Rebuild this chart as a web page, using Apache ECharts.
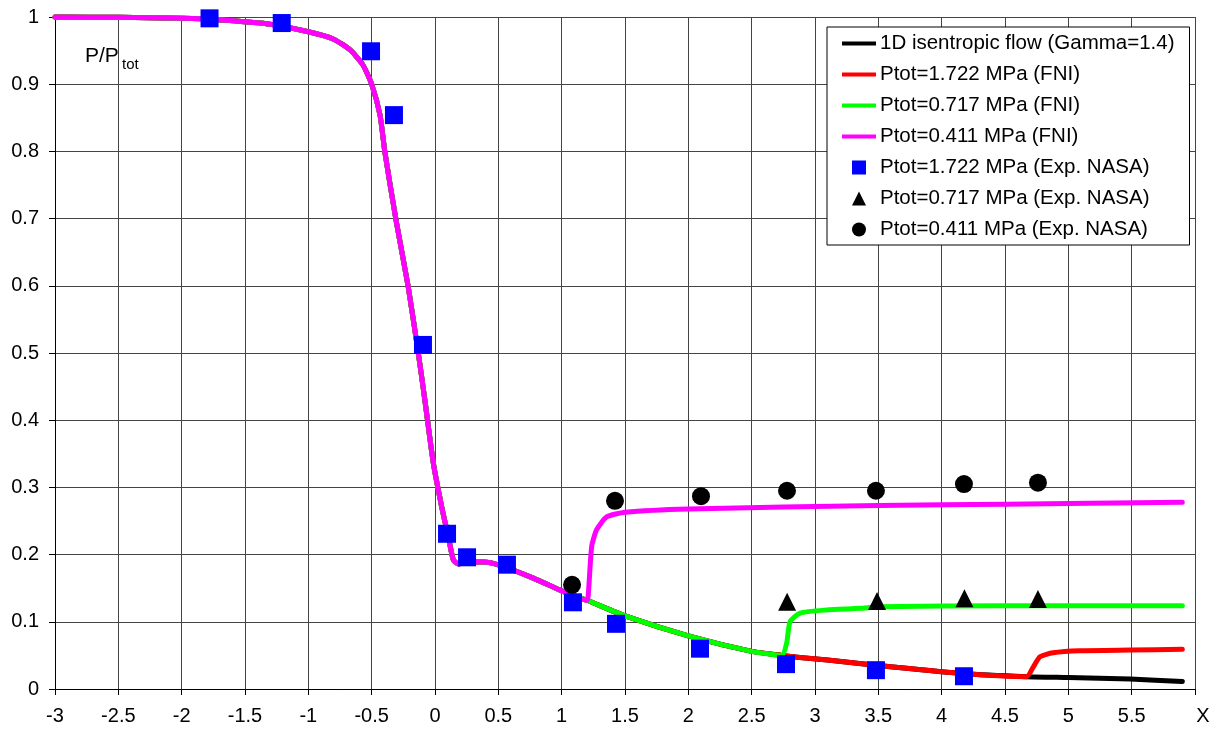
<!DOCTYPE html>
<html>
<head>
<meta charset="utf-8">
<script src="https://cdn.jsdelivr.net/npm/echarts@6/dist/echarts.min.js"></script>
<style>
html,body{margin:0;padding:0;background:#fff;}
#chart{width:1224px;height:735px;}
</style>
</head>
<body>
<div id="chart"></div>
<script>
// X positions / P/Ptot values
const isentropic = [
  [-3,1.0],[-2.5,0.9995],[-2.0,0.998],[-1.72,0.996],[-1.33,0.990],[-1.0,0.978],[-0.8,0.967],
  [-0.67,0.951],[-0.57,0.929],[-0.5,0.9],[-0.434,0.854],[-0.395,0.798],[-0.308,0.698],
  [-0.211,0.598],[-0.132,0.5],[-0.08,0.43],[-0.013,0.336],[0.053,0.271],[0.105,0.227],
  [0.145,0.192],[0.184,0.186],[0.25,0.189],[0.381,0.189],[0.513,0.184],[0.776,0.165],
  [1.013,0.145],[1.2,0.132],[1.513,0.108],[2.0,0.079],[2.5,0.056],[2.737,0.050],[2.88,0.047],
  [3.1,0.043],[3.35,0.038],[3.5,0.035],[4.17,0.023],[4.67,0.0183],[5.0,0.017],[5.49,0.0149],[5.9,0.011]
];
const fniRedShock = [[4.724,0.033],[4.776,0.048],[4.88,0.054],[5.09,0.057],[5.49,0.058],[5.9,0.059]];
const fniGreenShock = [[2.776,0.068],[2.803,0.100],[2.882,0.113],[3.092,0.1176],[3.355,0.120],[3.513,0.1225],[4.5,0.124],[5.9,0.124]];
const fniMagentaShock = [[1.21,0.14],[1.237,0.212],[1.276,0.237],[1.355,0.256],[1.5,0.263],[2.0,0.268],[3.5,0.273],[4.5,0.275],[5.9,0.278]];

const nasa1722 = [[-1.78,0.998],[-1.21,0.991],[-0.505,0.949],[-0.324,0.854],[-0.095,0.512],[0.095,0.231],
  [0.253,0.196],[0.568,0.185],[1.089,0.129],[1.429,0.097],[2.092,0.060],[2.771,0.037],[3.481,0.028],[4.176,0.019]];
const nasa0717 = [[2.78,0.130],[3.49,0.131],[4.18,0.135],[4.76,0.134]];
const nasa0411 = [[1.082,0.155],[1.421,0.280],[2.10,0.287],[2.779,0.295],[3.481,0.295],[4.176,0.305],[4.76,0.307]];

const seriesNames = [
  '1D isentropic flow (Gamma=1.4)',
  'Ptot=1.722 MPa (FNI)',
  'Ptot=0.717 MPa (FNI)',
  'Ptot=0.411 MPa (FNI)',
  'Ptot=1.722 MPa (Exp. NASA)',
  'Ptot=0.717 MPa (Exp. NASA)',
  'Ptot=0.411 MPa (Exp. NASA)'
];
const xMin = -3, xMax = 6, xStep = 0.5;
const yMin = 0, yMax = 1, yStep = 0.1;
const xAxisTitle = 'X';
const FONT = '"Liberation Sans", Arial, sans-serif';

const redCurve = isentropic.filter(p => p[0] <= 4.67).concat(fniRedShock);
const greenCurve = isentropic.filter(p => p[0] <= 2.737).concat(fniGreenShock);
const magentaCurve = isentropic.filter(p => p[0] <= 1.2).concat(fniMagentaShock);

const LINE_ICON = 'path://M0,0h34v4h-34z';
const SQUARE_ICON = 'path://M0,0h10v10h-10z';
const TRI_ICON = 'path://M5,0L10,10L0,10Z';

function lineSeries(name, data, color) {
  return {
    name, type: 'line', data, symbol: 'none', showSymbol: false,
    smooth: 0.2, z: 2,
    lineStyle: { color, width: 5, cap: 'round', join: 'round' },
    itemStyle: { color }, animation: false, clip: false,
    emphasis: { disabled: true }
  };
}
function scatterSeries(name, data, symbol, color, size) {
  return {
    name, type: 'scatter', data, symbol, symbolSize: size, z: 5,
    itemStyle: { color, opacity: 1 }, animation: false, clip: false,
    emphasis: { disabled: true }
  };
}

const chart = echarts.init(document.getElementById('chart'), null, { renderer: 'canvas' });
chart.setOption({
  backgroundColor: '#fff',
  animation: false,
  textStyle: { fontFamily: FONT },
  grid: { left: 55, right: 29, top: 17, bottom: 46, containLabel: false },
  xAxis: {
    type: 'value', min: xMin, max: xMax, interval: xStep,
    axisLine: { show: true, onZero: false, lineStyle: { color: '#000', width: 1 } },
    axisTick: { show: true, length: 6, lineStyle: { color: '#000' } },
    axisLabel: {
      color: '#000', fontSize: 20, fontFamily: FONT, margin: 17,
      formatter: v => Math.abs(v - xMax) < 1e-9 ? '{t|' + xAxisTitle + '}' : String(+v.toFixed(1)),
      rich: { t: { fontSize: 20, fontFamily: FONT, color: '#000', padding: [0, 0, 0, 16] } }
    },
    splitLine: { show: true, lineStyle: { color: '#444', width: 1 } }
  },
  yAxis: {
    type: 'value', min: yMin, max: yMax, interval: yStep,
    axisLine: { show: true, onZero: false, lineStyle: { color: '#000', width: 1 } },
    axisTick: { show: true, length: 6, lineStyle: { color: '#000' } },
    axisLabel: {
      color: '#000', fontSize: 20, fontFamily: FONT, margin: 16,
      formatter: v => String(+v.toFixed(1))
    },
    splitLine: { show: true, lineStyle: { color: '#444', width: 1 } }
  },
  legend: {
    orient: 'vertical', left: 827, top: 27, z: 10,
    padding: [6, 15, 5, 15], itemGap: 10, itemWidth: 34, itemHeight: 14,
    backgroundColor: '#fff', borderColor: '#000', borderWidth: 1, borderRadius: 0,
    textStyle: { fontSize: 20.5, fontFamily: FONT, color: '#000', padding: [0, 0, 0, -1] },
    data: [
      { name: seriesNames[0], icon: LINE_ICON },
      { name: seriesNames[1], icon: LINE_ICON },
      { name: seriesNames[2], icon: LINE_ICON },
      { name: seriesNames[3], icon: LINE_ICON },
      { name: seriesNames[4], icon: SQUARE_ICON },
      { name: seriesNames[5], icon: TRI_ICON },
      { name: seriesNames[6], icon: 'circle' }
    ],
    selectedMode: false
  },
  graphic: [
    { type: 'text', left: 85, top: 46, style: { text: 'P/P', fontSize: 21, fontFamily: FONT, fill: '#000' } },
    { type: 'text', left: 122, top: 57, style: { text: 'tot', fontSize: 15, fontFamily: FONT, fill: '#000' } }
  ],
  series: [
    lineSeries(seriesNames[0], isentropic, '#000000'),
    lineSeries(seriesNames[1], redCurve, '#ff0000'),
    lineSeries(seriesNames[2], greenCurve, '#00ff00'),
    lineSeries(seriesNames[3], magentaCurve, '#ff00ff'),
    scatterSeries(seriesNames[4], nasa1722, 'rect', '#0000ff', 18),
    scatterSeries(seriesNames[5], nasa0717, 'triangle', '#000000', 18),
    scatterSeries(seriesNames[6], nasa0411, 'circle', '#000000', 18)
  ]
});
</script>
</body>
</html>
